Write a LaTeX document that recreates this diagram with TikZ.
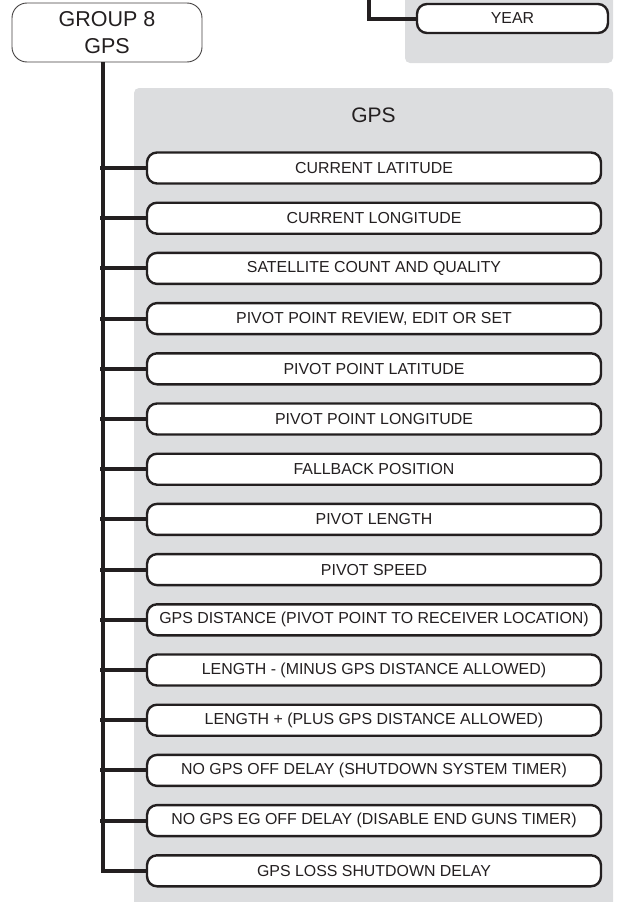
\documentclass[tikz,border=0pt]{standalone}
\usepackage{fontspec}
\setmainfont{Liberation Sans}
\definecolor{panelgray}{RGB}{220,221,223}
\definecolor{ink}{RGB}{35,31,32}
\begin{document}
\begin{tikzpicture}[x=1pt,y=-1pt,
  panel/.style={fill=panelgray,draw=none,rounded corners=5pt},
  item/.style={draw=ink,line width=2.4pt,fill=white,rounded corners=10pt,
    minimum width=454pt,minimum height=31pt,inner sep=0pt,
    font=\fontsize{15.9}{18}\selectfont,text=ink},
  group/.style={draw=ink!85,line width=0.9pt,fill=white,rounded corners=15pt,
    minimum width=190pt,minimum height=59pt,inner sep=0pt,align=center,
    font=\fontsize{21.5}{27}\selectfont,text=ink},
  title/.style={font=\fontsize{21}{24}\selectfont,text=ink},
  link/.style={draw=ink,line width=4pt}]
\useasboundingbox (0,0) rectangle (617,902);
% panels
\fill[panel] (405,-10) rectangle (613,63);
\fill[panel] (134,88) rectangle (613,912);
\node[title] (gpstitle) at (373.5,115) {GPS};
% top connector to YEAR
\coordinate (ytop) at (369,-5);
\node[item,minimum width=191pt,minimum height=29pt] (year) at (512.5,18.5) {YEAR};
\draw[link] (ytop) |- (year.west);
% group node
\node[group] (grp) at (107,32.5) {GROUP 8\\GPS};
% items
\foreach \t [count=\i from 0] in {
  CURRENT LATITUDE,
  CURRENT LONGITUDE,
  SATELLITE COUNT AND QUALITY,
  {PIVOT POINT REVIEW, EDIT OR SET},
  PIVOT POINT LATITUDE,
  PIVOT POINT LONGITUDE,
  FALLBACK POSITION,
  PIVOT LENGTH,
  PIVOT SPEED,
  GPS DISTANCE (PIVOT POINT TO RECEIVER LOCATION),
  LENGTH - (MINUS GPS DISTANCE ALLOWED),
  LENGTH + (PLUS GPS DISTANCE ALLOWED),
  NO GPS OFF DELAY (SHUTDOWN SYSTEM TIMER),
  NO GPS EG OFF DELAY (DISABLE END GUNS TIMER),
  GPS LOSS SHUTDOWN DELAY}
{
  \node[item] (b\i) at (374,{168+50.2*\i}) {\t};
}
% trunk and branches
\draw[link,line join=miter] ([xshift=-4pt]grp.south) |- (b14.west);
\foreach \i in {0,...,13} {
  \draw[link] (b\i.west) -- ++(-45.5,0);
}
\end{tikzpicture}
\end{document}
